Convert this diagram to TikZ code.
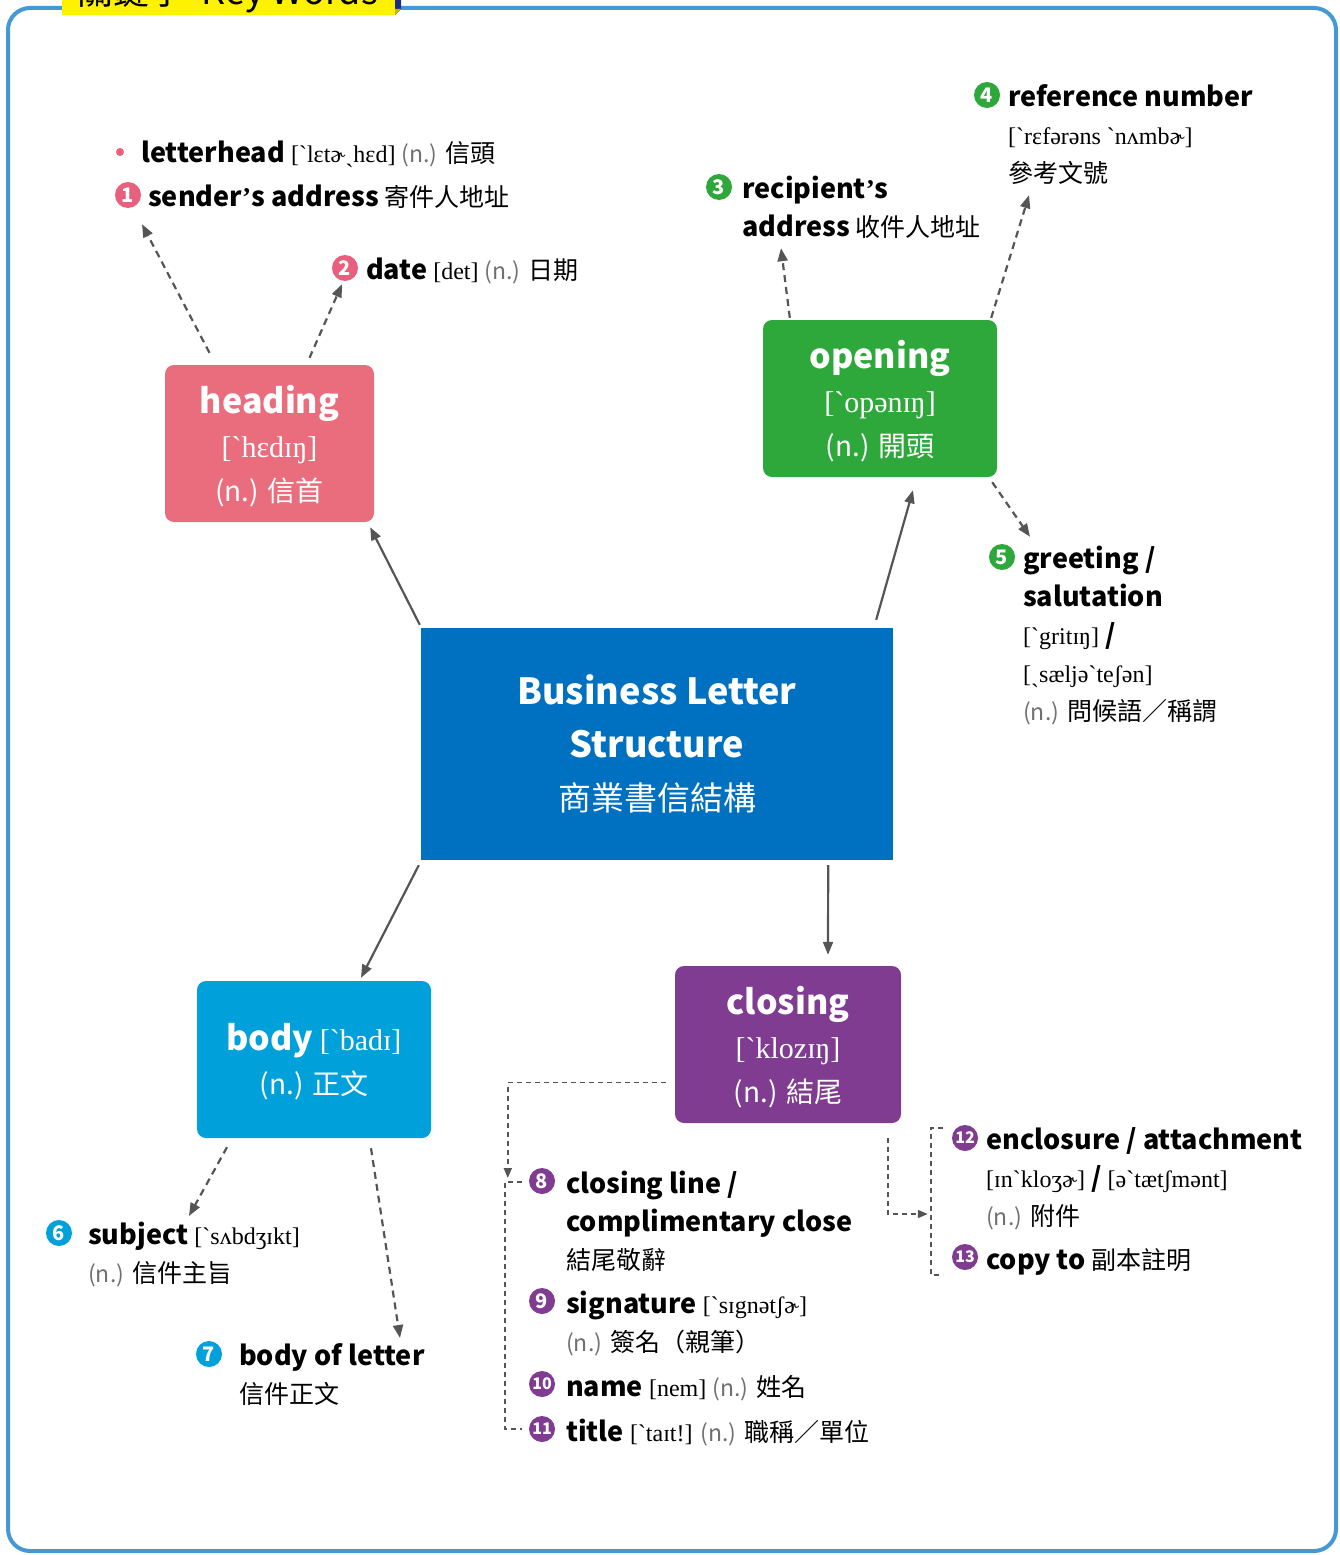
\documentclass[tikz,border=0pt]{standalone}
\usepackage{fontspec}
\setmainfont{Noto Sans CJK TC}
\newfontfamily\ipafont{Liberation Serif}
\usetikzlibrary{arrows.meta}
\definecolor{framebl}{HTML}{4499D5}
\definecolor{tabyel}{HTML}{FFF200}
\definecolor{tabnavy}{HTML}{1A2D80}
\definecolor{tabfold}{HTML}{C9B800}
\definecolor{corebl}{HTML}{0070C0}
\definecolor{headpk}{HTML}{EA6D7E}
\definecolor{pinkc}{HTML}{E8607D}
\definecolor{opengr}{HTML}{2EA83A}
\definecolor{bodycy}{HTML}{00A0DA}
\definecolor{closepu}{HTML}{7F3C91}
\definecolor{arrgray}{HTML}{555555}
\definecolor{ngray}{HTML}{707070}
\newcommand\ipatxt[2][24]{{\ipafont\fontsize{#1}{38}\selectfont #2}}
\newcommand\zhtxt[1]{{\fontsize{25}{38}\selectfont #1}}
\newcommand\nabbr{{\color{ngray}\fontsize{23}{38}\selectfont (n.)}}
\newcommand\apos{{\ipafont ’}}

\begin{document}
\begin{tikzpicture}[x=1pt,y=-1pt,
    partbox/.style={rounded corners=9pt, fill=#1, text=white, align=center, inner sep=0pt,
      minimum height=157pt, font=\fontsize{28}{44}\selectfont},
    badge/.style={circle, fill=#1, text=white, inner sep=0pt, minimum size=26pt,
      font=\bfseries\fontsize{20}{20}\selectfont},
    badgetwo/.style={badge=#1, font=\bfseries\fontsize{16}{16}\selectfont},
    term/.style={anchor=base west, inner sep=0pt, align=left, font=\fontsize{27}{38}\selectfont},
    solidarr/.style={draw=arrgray, line width=2.2pt, -{Triangle[length=13pt,width=10pt]}},
    dasharr/.style={solidarr, dash pattern=on 7pt off 5pt},
    elbow/.style={draw=arrgray, line width=1.8pt, dash pattern=on 5pt off 4pt},
    elbowarr/.style={elbow, -{Triangle[length=10pt,width=8pt]}}]
  \useasboundingbox (0,0) rectangle (1340,1555);
  \clip (0,0) rectangle (1340,1555);
  \draw[framebl, line width=4pt, rounded corners=22pt] (8,8) rectangle (1336,1551);
  \fill[tabyel] (62,-40) rectangle (395,15);
  \fill[tabnavy] (395,-40) -- (401,-40) -- (401,9) -- (395,15) -- cycle;
  \fill[tabfold] (395,15) -- (401,9) -- (395,9) -- cycle;
  \node[anchor=base, inner sep=0pt, font=\fontsize{36}{36}\selectfont] (tabtxt) at (228,5) {關鍵字\ \ Key Words};

  \node[fill=corebl, text=white, align=center, inner sep=0pt, minimum width=472pt, minimum height=232pt,
    font=\bfseries\fontsize{36}{53}\selectfont] (core) at (657,744)
    {Business Letter\\Structure\\{\mdseries\fontsize{33}{53}\selectfont 商業書信結構}};
  \node[partbox=headpk, minimum width=209pt] (heading) at (269.5,443.5)
    {\rule{0pt}{33pt}{\bfseries\fontsize{34}{44}\selectfont heading}\\\ipatxt[30]{[ˋhɛdɪŋ]}\\(n.) 信首};
  \node[partbox=opengr, minimum width=234pt] (opening) at (880,398.5)
    {\rule{0pt}{33pt}{\bfseries\fontsize{34}{44}\selectfont opening}\\\ipatxt[30]{[ˋopənɪŋ]}\\(n.) 開頭};
  \node[partbox=bodycy, minimum width=234pt] (body) at (314,1059.5)
    {\rule{0pt}{31pt}{\bfseries\fontsize{34}{44}\selectfont body} \ipatxt[30]{[ˋbadɪ]}\\(n.) 正文};
  \node[partbox=closepu, minimum width=226pt] (closing) at (788,1044.5)
    {\rule{0pt}{33pt}{\bfseries\fontsize{34}{44}\selectfont closing}\\\ipatxt[30]{[ˋklozɪŋ]}\\(n.) 結尾};

  \node[circle, fill=pinkc, minimum size=8pt, inner sep=0pt] (dot) at (120,152) {};
  \node[term] (lhead) at (141,162) {\textbf{letterhead} \ipatxt{[ˋlɛtɚˏhɛd]} \nabbr{} \zhtxt{信頭}};
  \node[badge=pinkc] (n1) at (128,195) {1};
  \node[term] (sender) at (148,206) {\textbf{sender\apos s address} \zhtxt{寄件人地址}};
  \node[badge=pinkc] (n2) at (345,268) {2};
  \node[term] (date) at (366,279) {\textbf{date} \ipatxt{[det]} \nabbr{} \zhtxt{日期}};
  \node[badge=opengr] (n3) at (719,187) {3};
  \node[term] (recip) at (742,236) {\textbf{recipient\apos s}\\\textbf{address} \zhtxt{收件人地址}};
  \node[badge=opengr] (n4) at (987,95) {4};
  \node[term] (refno) at (1008,182) {\textbf{reference number}\\\ipatxt{[ˋrɛfərəns ˋnʌmbɚ]}\\\zhtxt{參考文號}};
  \node[badge=opengr] (n5) at (1002,557) {5};
  \node[term] (greet) at (1023,720) {\textbf{greeting /}\\\textbf{salutation}\\\ipatxt{[ˋgritɪŋ]} \textbf{/}\\\ipatxt{[ˏsæljəˋteʃən]}\\\nabbr{} \zhtxt{問候語／稱謂}};
  \node[badge=bodycy] (n6) at (59,1233) {6};
  \node[term] (subj) at (88,1282) {\textbf{subject} \ipatxt{[ˋsʌbdʒɪkt]}\\\nabbr{} \zhtxt{信件主旨}};
  \node[badge=bodycy] (n7) at (209,1354) {7};
  \node[term] (bodyl) at (239,1403) {\textbf{body of letter}\\\zhtxt{信件正文}};
  \node[badge=closepu] (n8) at (542,1181) {8};
  \node[term] (closel) at (566,1269) {\textbf{closing line /}\\\textbf{complimentary close}\\\zhtxt{結尾敬辭}};
  \node[badge=closepu] (n9) at (542,1301) {9};
  \node[term] (sign) at (566,1351) {\textbf{signature} \ipatxt{[ˋsɪgnətʃɚ]}\\\nabbr{} \zhtxt{簽名（親筆）}};
  \node[badgetwo=closepu] (n10) at (542,1384) {10};
  \node[term] (name) at (566,1396) {\textbf{name} \ipatxt{[nem]} \nabbr{} \zhtxt{姓名}};
  \node[badgetwo=closepu] (n11) at (542,1429) {11};
  \node[term] (title) at (566,1441) {\textbf{title} \ipatxt{[ˋtaɪt!]} \nabbr{} \zhtxt{職稱／單位}};
  \node[badgetwo=closepu] (n12) at (965,1138) {12};
  \node[term] (encl) at (986,1225) {\textbf{enclosure / attachment}\\\ipatxt{[ɪnˋkloʒɚ]} \textbf{/} \ipatxt{[əˋtætʃmənt]}\\\nabbr{} \zhtxt{附件}};
  \node[badgetwo=closepu] (n13) at (965,1257) {13};
  \node[term] (copyto) at (986,1269) {\textbf{copy to} \zhtxt{副本註明}};

  \draw[solidarr] ([xshift=-1pt,yshift=3pt]core.north west) -- ([xshift=-4pt,yshift=-5pt]heading.south east);
  \draw[solidarr] ([xshift=-17pt,yshift=8pt]core.north east) -- ([xshift=33pt,yshift=-13pt]opening.south);
  \draw[solidarr] ([xshift=-2pt,yshift=-5pt]core.south west) -- ([xshift=47pt,yshift=3pt]body.north);
  \draw[solidarr] ([xshift=-65pt,yshift=-5pt]core.south east) -- ([xshift=40pt,yshift=11pt]closing.north);

  \draw[dasharr] ([xshift=-60pt,yshift=12pt]heading.north) -- ([xshift=14pt,yshift=-16pt]n1.south);
  \draw[dasharr] ([xshift=40pt,yshift=7pt]heading.north) -- ([xshift=-3pt,yshift=-3pt]n2.south);
  \draw[dasharr] ([xshift=27pt,yshift=2pt]opening.north west) -- ([xshift=62pt,yshift=-48pt]n3.south);
  \draw[dasharr] ([xshift=-6pt,yshift=2pt]opening.north east) -- ([xshift=42pt,yshift=-87pt]n4.south);
  \draw[dasharr] ([xshift=-5pt,yshift=-5pt]opening.south east) -- ([xshift=28pt,yshift=7pt]n5.north);
  \draw[dasharr] ([xshift=-87pt,yshift=-9pt]body.south) -- ([xshift=101pt,yshift=66pt]subj.base west);
  \draw[dasharr] ([xshift=57pt,yshift=-10pt]body.south) -- ([xshift=161pt,yshift=65pt]bodyl.base west);

  \draw[elbowarr] ([xshift=-9pt,yshift=-38pt]closing.west) -| ([xshift=-21pt,yshift=3pt]n8.west);
  \draw[elbow] ([xshift=-7pt,yshift=-1pt]n8.west) -- ++(-17,0) |- ([xshift=-7pt]n11.west);
  \draw[elbowarr] ([xshift=-13pt,yshift=-15pt]closing.south east) |- ([xshift=-24pt,yshift=-76pt]n12.west);
  \draw[elbow] ([xshift=-9pt,yshift=10pt]n12.west) -- ++(-12,0) |- ([xshift=-9pt,yshift=-18pt]n13.west);
\end{tikzpicture}
\end{document}
